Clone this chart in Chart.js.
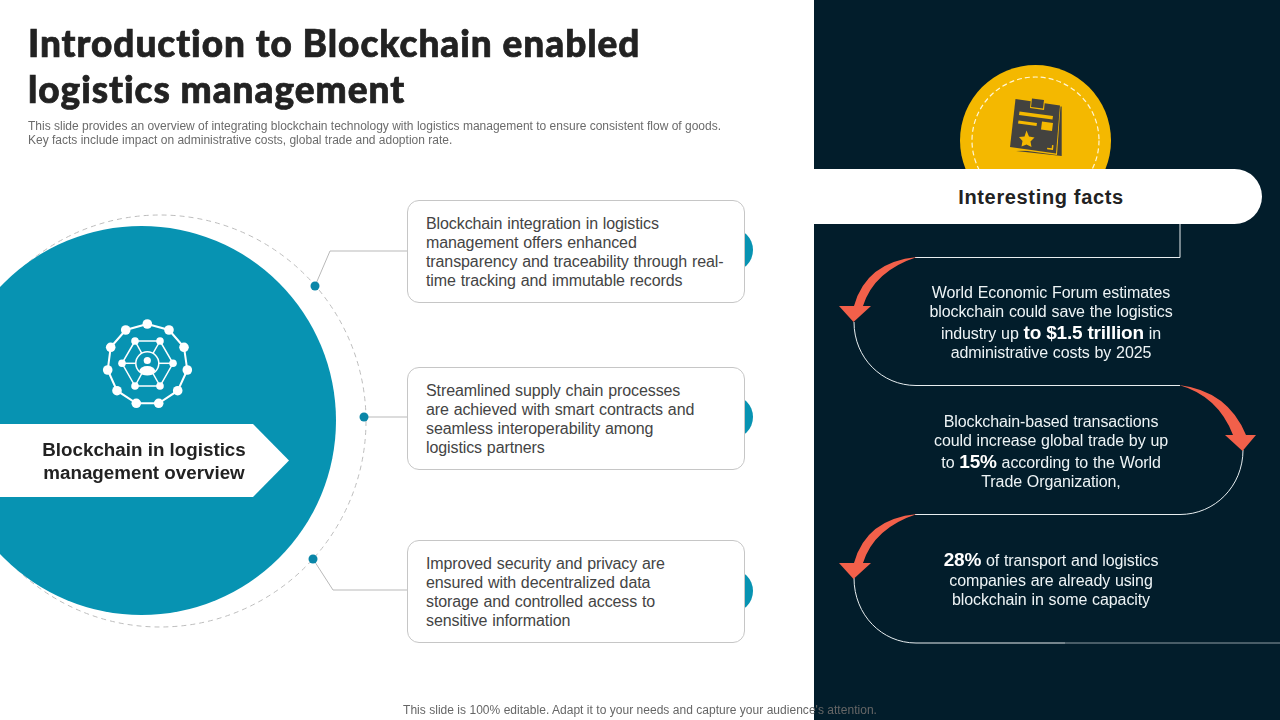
<!DOCTYPE html>
<html>
<head>
<meta charset="utf-8">
<title>Blockchain enabled logistics management</title>
<script src="https://cdn.jsdelivr.net/npm/chart.js@4"></script>
<style>
  html, body { margin:0; padding:0; background:#fff; }
  #stage { position:relative; width:1280px; height:720px; overflow:hidden; font-family:"Liberation Sans", Arial, sans-serif; }
  #panel { position:absolute; left:814px; top:0; width:466px; height:720px; background:#021d2b; }
  #c { position:absolute; left:0; top:0; z-index:1; }
  .card { position:absolute; left:407px; width:336px; height:101px; background:#fff; border:1px solid #c6c6c6; border-radius:12px; z-index:2; }
  #pill { position:absolute; left:814px; top:169px; width:448px; height:55px; background:#fff; border-radius:0 28px 28px 0; z-index:2; }
  #banner { position:absolute; left:0; top:424px; width:289px; height:73px; background:#fff; clip-path:polygon(0 0, 253px 0, 100% 50%, 253px 100%, 0 100%); z-index:2; }
  .t { position:absolute; white-space:nowrap; z-index:3; transform:translateY(-50%); }
  .c { transform:translate(-50%,-50%); }
  .title { font:900 37px Lato, sans-serif; color:#222; letter-spacing:0.96px; -webkit-text-stroke:0.7px #222; }
  .sub { font-size:12px; color:#6b6b6b; }
  .body { font-size:16px; color:#444; word-spacing:0.5px; letter-spacing:-0.1px; }
  .fact { font-size:16px; color:#eef4f6; word-spacing:0.5px; letter-spacing:-0.1px; }
  .fact b { font-size:19px; color:#fff; word-spacing:0; letter-spacing:-0.2px; }
  .ban { font-size:18.8px; font-weight:bold; color:#222; }
  .foot { font-size:12px; color:#666; letter-spacing:0.03px; z-index:4; }
</style>
</head>
<body>
<div id="stage">
  <div id="panel"></div>
  <canvas id="c" width="1280" height="720"></canvas>
  <div class="card" style="top:200px"></div>
  <div class="card" style="top:367px"></div>
  <div class="card" style="top:540px"></div>
  <div id="pill"></div>
  <div id="banner"></div>
</div>
<script>
'use strict';

// ── text ──
const titleLines = ['Introduction to Blockchain enabled', 'logistics management'];
const subLines = [
  'This slide provides an overview of integrating blockchain technology with logistics management to ensure consistent flow of goods.',
  'Key facts include impact on administrative costs, global trade and adoption rate.'
];
const bannerLines = ['Blockchain in logistics', 'management overview'];
const cardLines = [
  ['Blockchain integration in logistics', 'management offers enhanced', 'transparency and traceability through real-', 'time tracking and immutable records'],
  ['Streamlined supply chain processes', 'are achieved with smart contracts and', 'seamless interoperability among', 'logistics partners'],
  ['Improved security and privacy are', 'ensured with decentralized data', 'storage and controlled access to', 'sensitive information']
];
const factHeading = 'Interesting facts';
const factLines = [
  ['World Economic Forum estimates', 'blockchain could save the logistics', 'industry up <b>to $1.5 trillion</b> in', 'administrative costs by 2025'],
  ['Blockchain-based transactions', 'could increase global trade by up', 'to <b>15%</b> according to the World', 'Trade Organization,'],
  ['<b>28%</b> of transport and logistics', 'companies are already using', 'blockchain in some capacity']
];
const footNote = 'This slide is 100% editable. Adapt it to your needs and capture your audience\'s attention.';

// ── diagram marks, in slide units ──
const hubCircle = [{x:141.5, y:420.5}];
const badgeCircle = [{x:1035.5, y:140.5}];
const cardTabs = [{x:731, y:250}, {x:731, y:417}, {x:731, y:591}];
const ringDots = [{x:315, y:286}, {x:364, y:417}, {x:313, y:559}];
const connectors = [
  [[315,286],[330,251],[407,251]],
  [[364,417],[407,417]],
  [[313,559],[333,590],[407,590]]
];
const netOuter = [[147.3,324],[169,330],[184,347.3],[187.3,370],[177.7,390.7],[158.7,403.3],[136.3,403.3],[117,390.7],[107.7,370],[110.7,347.3],[125.7,330]];
const netInner = [[135,341],[160,341],[173,363.3],[160,386],[135,386],[122,363.3]];
const netCentre = [147.3, 363.3];

function lineSet(pts, color, width) {
  return { type:'scatter', showLine:true, data:pts.map(p => ({x:p[0], y:p[1]})), borderColor:color, borderWidth:width, pointRadius:0, clip:false, tension:0 };
}
function dotSet(pts, color, radius, order) {
  return { type:'scatter', data:pts, backgroundColor:color, borderWidth:0, pointRadius:radius, clip:false, order:order };
}
const asPts = list => list.map(p => ({x:p[0], y:p[1]}));

const datasets = [];
// dataset with higher order is painted first
datasets.push(dotSet(hubCircle, '#0793b2', 194.5, 50));
datasets.push(dotSet(badgeCircle, '#f4b800', 75.5, 50));
datasets.push(dotSet(cardTabs, '#0793b2', 22, 50));
connectors.forEach(c => { const d = lineSet(c, '#b9b9b9', 1); d.order = 40; datasets.push(d); });
datasets.push(dotSet(ringDots, '#0a86a8', 4.5, 30));
// network icon
{
  const white = '#ffffff';
  const edges = [
    netOuter.concat([netOuter[0]]),
    netInner.concat([netInner[0]])
  ];
  netInner.forEach(p => edges.push([p, netCentre]));
  edges.forEach((e, i) => { const d = lineSet(e, white, i === 0 ? 2 : 1.5); d.order = 20; datasets.push(d); });
  datasets.push(dotSet(asPts(netOuter), white, 4.8, 10));
  datasets.push(dotSet(asPts(netInner), white, 3.8, 10));
  datasets.push({ type:'scatter', data:asPts([netCentre]), backgroundColor:'#0793b2', borderColor:white, borderWidth:1.5, pointRadius:11.5, clip:false, order:15 });
  datasets.push(dotSet(asPts([[147.3,360.5]]), white, 3.6, 9));
}

// dashed rings, flow line, arrows and the clipboard go through the same scales
const slideShapes = {
  id:'slideShapes',
  beforeDatasetsDraw(chart) {
    const { ctx, scales:{x, y} } = chart;
    ctx.save();
    ctx.strokeStyle = '#bdbdbd'; ctx.lineWidth = 1; ctx.setLineDash([5,4]);
    ctx.beginPath(); ctx.arc(x.getPixelForValue(160), y.getPixelForValue(421), 206, 0, Math.PI*2); ctx.stroke();
    ctx.restore();
  },
  afterDatasetsDraw(chart) {
    const { ctx, scales:{x, y} } = chart;
    const X = v => x.getPixelForValue(v), Y = v => y.getPixelForValue(v);
    ctx.save();
    // badge inner dashes
    ctx.strokeStyle = '#fff6d6'; ctx.lineWidth = 1.2; ctx.setLineDash([5,3]);
    ctx.beginPath(); ctx.arc(X(1035.5), Y(140.5), 63.5, 0, Math.PI*2); ctx.stroke();
    ctx.setLineDash([]);
    // hub icon body
    ctx.fillStyle = '#fff';
    ctx.beginPath(); ctx.ellipse(X(147.3), Y(370.5), 7.8, 4.4, 0, 0, Math.PI*2); ctx.fill();
    // white flow line
    ctx.strokeStyle = '#e8eef0'; ctx.lineWidth = 1;
    ctx.beginPath();
    ctx.moveTo(X(1180), Y(224)); ctx.lineTo(X(1180), Y(257.5)); ctx.lineTo(X(915), Y(257.5));
    ctx.moveTo(X(854), Y(322)); ctx.bezierCurveTo(X(854),Y(358),X(882),Y(385.5),X(916),Y(385.5));
    ctx.lineTo(X(1180), Y(385.5));
    ctx.moveTo(X(1243), Y(450)); ctx.bezierCurveTo(X(1243),Y(486),X(1215),Y(514.5),X(1180),Y(514.5));
    ctx.lineTo(X(915), Y(514.5));
    ctx.moveTo(X(854), Y(578)); ctx.bezierCurveTo(X(854),Y(615),X(882),Y(643),X(916),Y(643));
    ctx.lineTo(X(1065), Y(643));
    ctx.stroke();
    ctx.strokeStyle = '#8f9ea5';
    ctx.beginPath(); ctx.moveTo(X(1065), Y(643)); ctx.lineTo(X(1280), Y(643)); ctx.stroke();
    // red arrows
    ctx.fillStyle = '#f2604a';
    [0, 257].forEach(dy => {
      ctx.beginPath();
      ctx.moveTo(X(917), Y(257+dy));
      ctx.quadraticCurveTo(X(866), Y(262+dy), X(854), Y(306+dy));
      ctx.lineTo(X(839), Y(306+dy)); ctx.lineTo(X(853.5), Y(322+dy)); ctx.lineTo(X(871), Y(306+dy)); ctx.lineTo(X(863), Y(306+dy));
      ctx.quadraticCurveTo(X(874), Y(271+dy), X(917), Y(257+dy));
      ctx.fill();
    });
    ctx.beginPath();
    ctx.moveTo(X(1179), Y(385));
    ctx.quadraticCurveTo(X(1218), Y(396), X(1233), Y(435));
    ctx.lineTo(X(1225), Y(435)); ctx.lineTo(X(1242.5), Y(451)); ctx.lineTo(X(1256), Y(435)); ctx.lineTo(X(1246), Y(435));
    ctx.quadraticCurveTo(X(1228), Y(391), X(1179), Y(385));
    ctx.fill();
    // clipboard icon
    const poly = (pts, fill) => {
      ctx.fillStyle = fill; ctx.beginPath();
      pts.forEach((p,i) => i ? ctx.lineTo(X(p[0]),Y(p[1])) : ctx.moveTo(X(p[0]),Y(p[1])));
      ctx.closePath(); ctx.fill();
    };
    const ink = '#43423f', gold = '#f4b800';
    poly([[1016,151],[1061.7,156],[1061.7,106.5],[1059,106.5],[1050,150]], ink);
    poly([[1015,99],[1060.5,106],[1057,155],[1009.5,148.5]], gold);
    poly([[1015.5,99],[1060,105.5],[1056,153.5],[1010,147]], ink);
    poly([[1031,98],[1045,100],[1044,110],[1030,108]], gold);
    poly([[1032,98.5],[1044,100],[1043,108.5],[1031,107]], ink);
    poly([[1019.5,111.5],[1053,116],[1052.5,119.5],[1019,115]], gold);
    poly([[1018.5,120.5],[1037,123],[1036.5,126],[1018,123.5]], gold);
    poly([[1042,121.5],[1053,123],[1052,131],[1041,129.5]], gold);
    poly([[1026.5,130.5],[1029,136.5],[1034.5,137.5],[1030.5,141.5],[1031.5,147],[1026.5,144.5],[1021.5,146.5],[1022.5,141],[1019,137],[1024.5,136.5]], gold);
    poly([[1052,145],[1053.5,145.2],[1053,150],[1047,149.2],[1047.2,147.7],[1051.7,148.3]], gold);
    ctx.restore();
  }
};

new Chart(document.getElementById('c'), {
  data:{ datasets },
  plugins:[slideShapes],
  options:{
    responsive:false, animation:false, events:[], devicePixelRatio:1,
    // big point radii must not shrink the plot area
    layout:{ padding:0, autoPadding:false },
    plugins:{ legend:{display:false}, tooltip:{enabled:false}, title:{display:false} },
    scales:{
      x:{ type:'linear', display:false, min:0, max:1280 },
      y:{ type:'linear', display:false, min:0, max:720, reverse:true }
    }
  }
});

// ── real text on top ──
const stage = document.getElementById('stage');
function put(html, cls, x, y, centred) {
  const el = document.createElement('div');
  el.className = 't ' + cls + (centred ? ' c' : '');
  el.style.left = x + 'px';
  el.style.top = y + 'px';
  el.innerHTML = html;
  stage.appendChild(el);
  return el;
}
[41.5, 87.5].forEach((y,i) => put(titleLines[i], 'title', 28, y));
[126, 140].forEach((y,i) => put(subLines[i], 'sub', 28, y));
[449.5, 472.5].forEach((y,i) => put(bannerLines[i], 'ban', 144, y, true));
[224, 391, 564].forEach((top,k) => {
  cardLines[k].forEach((line,i) => put(line, 'body', 426, top + i*19));
});
put(factHeading, 'ban', 1041, 197, true).style.cssText += ';font-size:20px;letter-spacing:.65px';
const factRows = [[293,312,332.5,353],[422,441,462,482],[560,581,600]];
factRows.forEach((rows,k) => rows.forEach((y,i) => put(factLines[k][i], 'fact', 1051, y, true)));
put(footNote, 'foot', 640, 710, true);
</script>
</body>
</html>
